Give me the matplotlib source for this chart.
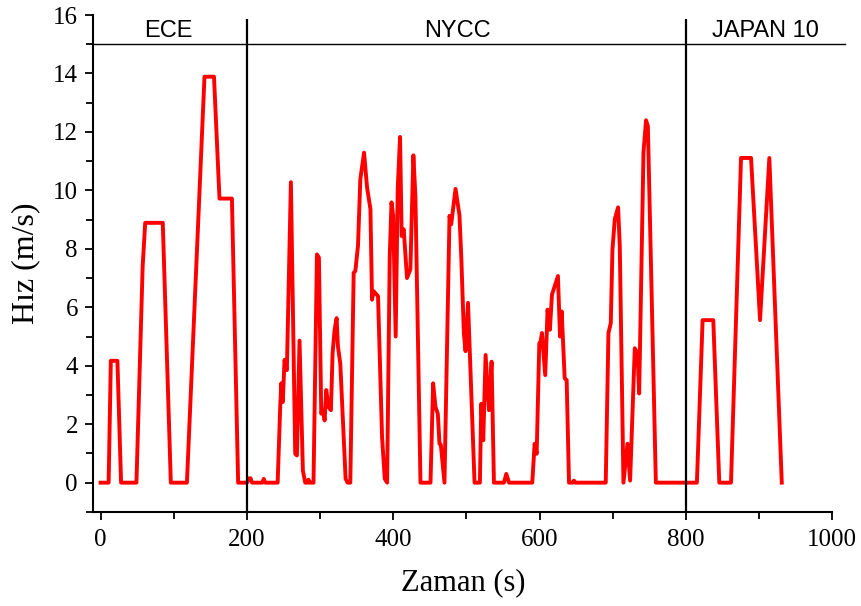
import matplotlib
matplotlib.use("Agg")
import matplotlib.pyplot as plt
from matplotlib.ticker import MultipleLocator

# ── Datos ─────────────────────────────────────────────────────────────────────
ece_t = [0, 11, 14, 23, 28, 49, 57.5, 61, 85, 96, 118, 142, 155, 162.5,
         179.5, 188, 200, 203, 205, 207]
ece_v = [0, 0, 4.17, 4.17, 0, 0, 7.4, 8.89, 8.89, 0, 0, 13.89, 13.89, 9.72,
         9.72, 0, 0, 0.15, 0.15, 0]

nycc_t = [221, 223, 225, 242, 245.5, 247, 249, 251.4, 254.6, 260.1, 266,
          268.3, 271.9, 276.5, 279.7, 283, 284.2, 285.5, 291, 295.7, 298.4,
          301.6, 303.9, 306.2, 308.4, 311.6, 314.8, 317.1, 319.8, 322.6,
          324.4, 327.6, 334.9, 337.6, 341.3, 345.9, 348.2, 351.8, 355, 360.1,
          364.2, 368.8, 371, 373.3, 379.2, 384.7, 388.4, 391.6, 395.2, 397.6,
          399.9, 403.3, 406.1, 409.3, 411.5, 414.3, 418.8, 423.4, 427.5,
          430.3, 437.2, 450.9, 454.5, 457.7, 460.9, 463.2, 465, 470, 476.9,
          479.2, 485.1, 490.5, 493, 496.5, 498.8, 502.2, 509.3, 511.1, 518.4,
          520.3, 523, 526.2, 530.8, 534.4, 537.6, 551.3, 554.5, 558.2, 590,
          593.2, 596, 599.6, 601.4, 603.2, 607.7, 610.9, 614.1, 616.9, 625.1,
          627.9, 630.2, 634.3, 637, 640.2, 645, 647, 649, 690.4, 694.1, 697.3,
          699.6, 702.8, 707.3, 709.6, 714.6, 720.1, 723.7, 730.1, 733.8,
          736.1, 742, 745.5, 748, 758.9]
nycc_v = [0, 0.13, 0, 0, 2.59, 3.4, 2.76, 4.2, 3.85, 10.28, 0.99,
          0.93, 4.86, 0.41, 0, 0, 0.1, 0, 0, 7.81, 7.7,
          2.36, 2.48, 2.13, 3.17, 2.59, 2.48, 4.43, 5.23, 5.63,
          4.66, 4.08, 0.13, 0, 0, 7.18, 7.24, 8.1, 10.39, 11.29,
          10.1, 9.36, 6.26, 6.55, 6.38, 1.56, 0.13, 0, 7.75, 9.59,
          9.13, 5.0, 10.05, 11.83, 8.44, 8.67, 7.0, 7.3, 11.2,
          9.8, 0, 0, 3.4, 2.59, 2.36, 1.33, 1.3, 0, 9.13,
          8.84, 10.05, 9.15, 7.7, 5.1, 4.5, 6.15, 1.2, 0, 0,
          2.7, 1.45, 4.37, 2.48, 4.14, 0, 0, 0.3, 0, 0,
          1.33, 0.99, 4.77, 4.83, 5.12, 3.68, 5.92, 5.23, 6.43, 7.07,
          5.0, 5.86, 3.57, 3.51, 0, 0, 0.07, 0, 0, 5.12, 5.46,
          7.98, 9.02, 9.42, 8.1, 0, 1.33, 0.07, 4.6, 4.43,
          3.05, 11.31, 12.4, 12.2, 0]

japan_t = [815, 822.8, 837.4, 845.6, 861.6, 875.3, 889, 901.3, 914, 931]
japan_v = [0, 5.56, 5.56, 0, 0, 11.11, 11.11, 5.56, 11.11, 0]

SECTIONS      = ["ECE", "NYCC", "JAPAN 10"]
SECTION_X     = [93, 488, 909]
SECTION_BOUND = [200, 800]
BAND_Y        = 15
# ─────────────────────────────────────────────────────────────────────────────

serif = "Liberation Serif"
sans = "Liberation Sans"

t = ece_t + nycc_t + japan_t
v = ece_v + nycc_v + japan_v

fig = plt.figure(figsize=(8.62, 6.06), dpi=100)
ax = fig.add_axes([0.1082, 0.1553, 0.8573, 0.8199])

ax.plot(t, v, color="#ff0000", linewidth=2.8, solid_joinstyle="round", zorder=3)

# bandas de ciclos
ax.plot([-10, 1017], [BAND_Y, BAND_Y], color="black", linewidth=1.0,
        clip_on=False, zorder=2)
ax.vlines(SECTION_BOUND, -1, 15.88, color="black", linewidth=1.6, zorder=4)
for name, xc in zip(SECTIONS, SECTION_X):
    ax.text(xc, BAND_Y + 0.08, name, ha="center", va="bottom",
            fontsize=17, family=sans)

ax.set_xlim(-10, 1000)
ax.set_ylim(-1, 16)
ax.xaxis.set_major_locator(MultipleLocator(200))
ax.xaxis.set_minor_locator(MultipleLocator(100))
ax.yaxis.set_major_locator(MultipleLocator(2))
ax.yaxis.set_minor_locator(MultipleLocator(1))

for s in ["top", "right"]:
    ax.spines[s].set_visible(False)
for s in ["left", "bottom"]:
    ax.spines[s].set_linewidth(1.5)

ax.tick_params(which="both", direction="out", width=1.3)
ax.tick_params(axis="x", which="both", pad=6)
ax.tick_params(axis="y", which="both", pad=5)
ax.tick_params(which="major", length=6)
ax.tick_params(which="minor", length=5)
for lab in ax.get_xticklabels() + ax.get_yticklabels():
    lab.set_family(serif)
    lab.set_fontsize(18)

ax.set_xlabel("Zaman (s)", family=serif, fontsize=22, labelpad=13)
ax.set_ylabel("Hız (m/s)", family=serif, fontsize=23, labelpad=9)

fig.savefig("out.png", dpi=100)
